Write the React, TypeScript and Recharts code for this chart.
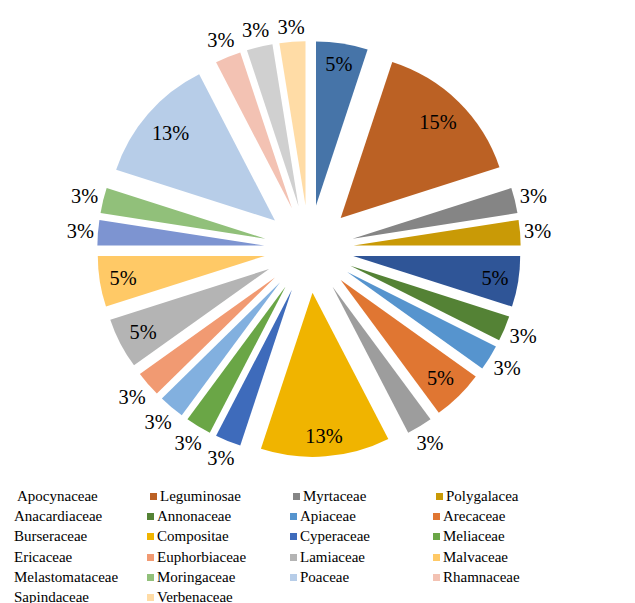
import { Cell, Legend, Pie, PieChart } from "recharts";

const FAMILIES = [
  "Apocynaceae", "Leguminosae", "Myrtaceae", "Polygalacea",
  "Anacardiaceae", "Annonaceae", "Apiaceae", "Arecaceae",
  "Burseraceae", "Compositae", "Cyperaceae", "Meliaceae",
  "Ericaceae", "Euphorbiaceae", "Lamiaceae", "Malvaceae",
  "Melastomataceae", "Moringaceae", "Poaceae", "Rhamnaceae",
  "Sapindaceae", "Verbenaceae",
];

// number of species per family (40 in total)
const SPECIES = [2, 6, 1, 1, 2, 1, 1, 2, 1, 5, 1, 1, 1, 1, 2, 2, 1, 1, 5, 1, 1, 1];

const COLORS = [
  "#4674a8", "#bb6124", "#858585", "#c99a06",
  "#2f5597", "#548235", "#5694ce", "#e07632",
  "#9d9d9d", "#f0b400", "#3e6bbb", "#6aa646",
  "#82b0df", "#f19a72", "#b4b4b4", "#ffc966",
  "#7d94d1", "#91c07a", "#b7cde8", "#f3c2b3",
  "#d0d0d0", "#ffdca6",
];

const FONT = "Liberation Serif, DejaVu Serif";
const RAD = Math.PI / 180;
const CX = 309;
const CY = 249;
const RADIUS = 164;
const EXPLODE = 44;

const data = FAMILIES.map((name, i) => ({ name, value: SPECIES[i] }));
const total = SPECIES.reduce((s, v) => s + v, 0);

// every slice pulled out along its own mid angle (clockwise from 12 o'clock)
const shifts = (() => {
  let acc = 0;
  return SPECIES.map((v) => {
    const a = ((acc + v / 2) / total) * 360 * RAD;
    acc += v;
    return { dx: EXPLODE * Math.sin(a), dy: -EXPLODE * Math.cos(a) };
  });
})();

function SliceLabel(props: any) {
  const { cx, cy, midAngle, percent } = props;
  const text = `${Math.round(percent * 100)}%`;
  const a = (90 - midAngle) * RAD;
  const halfW = (text.length - 1) * 5 + 8.5;
  const halfH = 11;
  const box = halfW * Math.abs(Math.sin(a)) + halfH * Math.abs(Math.cos(a));
  // big slices get the label inside the end, thin ones outside
  const r = percent >= 0.04 ? 200 - box : 211 + box;
  return (
    <text
      x={cx + r * Math.sin(a)}
      y={cy - r * Math.cos(a)}
      textAnchor="middle"
      dominantBaseline="central"
      style={{ fontFamily: FONT }}
      fontSize={20}
      fill="#000"
    >
      {text}
    </text>
  );
}

function LegendGrid() {
  return (
    <div style={{ position: "relative", width: 635, height: 120, fontFamily: FONT, fontSize: 15, color: "#000" }}>
      {FAMILIES.map((name, i) => {
        const col = i % 4;
        const row = Math.floor(i / 4);
        const left = 14 + col * 143 + (row === 0 ? 3 : 0);
        const top = row * 20.2;
        return (
          <div key={name} style={{ position: "absolute", left, top, lineHeight: "20px", whiteSpace: "nowrap" }}>
            {col > 0 && (
              <span
                style={{
                  position: "absolute",
                  left: -10.5,
                  top: 7,
                  width: 7,
                  height: 7,
                  backgroundColor: COLORS[i],
                }}
              />
            )}
            {name}
          </div>
        );
      })}
    </div>
  );
}

export default function App() {
  return (
    <div style={{ position: "absolute", left: 0, top: 0, width: 635, height: 603, background: "#fff", fontFamily: FONT }}>
      {/* the source picture is a little wider than tall */}
      <style>{`.recharts-surface { transform: scaleX(1.018); transform-origin: ${CX}px 0; }`}</style>
      <PieChart width={635} height={603} margin={{ top: 0, right: 0, bottom: 0, left: 0 }}>
        <Pie
          data={data}
          dataKey="value"
          nameKey="name"
          cx={CX}
          cy={CY}
          outerRadius={RADIUS}
          startAngle={90}
          endAngle={-270}
          stroke="none"
          label={SliceLabel}
          labelLine={false}
          isAnimationActive={false}
        >
          {data.map((entry, i) => (
            <Cell
              key={entry.name}
              fill={COLORS[i]}
              transform={`translate(${shifts[i].dx}, ${shifts[i].dy})`}
            />
          ))}
        </Pie>
        <Legend
          content={LegendGrid}
          wrapperStyle={{ left: 0, top: 486, width: 635, height: 120 }}
        />
      </PieChart>
    </div>
  );
}
